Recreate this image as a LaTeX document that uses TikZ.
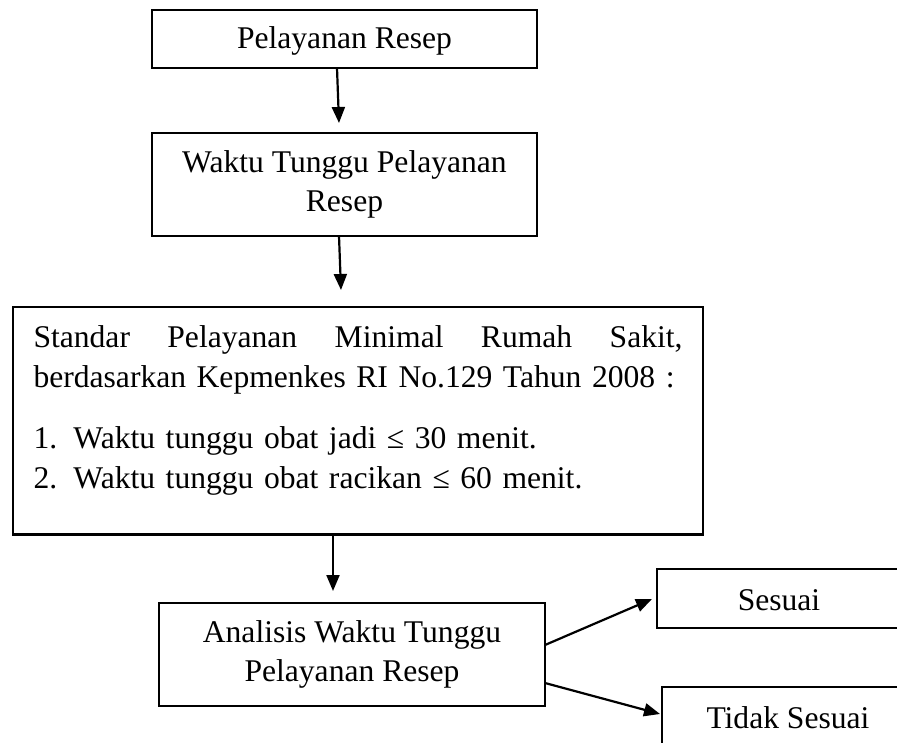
\documentclass[tikz,border=0pt]{standalone}
\usepackage{fontspec}
\setmainfont{Liberation Serif}
\usetikzlibrary{arrows.meta,calc}
\setlength{\parindent}{0pt}
\begin{document}
\begin{tikzpicture}[x=1pt,y=-1pt,
  box/.style={draw, line width=2.4pt, inner sep=0pt, outer sep=0pt,
    font=\fontsize{31.6pt}{39.5pt}\selectfont},
  arr/.style={line width=2.2pt, -{Triangle[length=16pt,width=13pt]}}]
\useasboundingbox (0,0) rectangle (897,743);
\clip (0,0) rectangle (897,743);
\node[box, minimum width=385pt, text height=39pt, text depth=19pt, anchor=base] (b1) at (344.5,49) {Pelayanan Resep};
\node[box, minimum width=385pt, minimum height=103pt, align=center] (b2) at (344.5,184.5) {Waktu Tunggu Pelayanan\\Resep};
\node[box, anchor=north west, text width=649pt, inner xsep=20.5pt, align=left] (b3) at (13,307)
  {\hbox to \linewidth{\rule{0pt}{41pt}Standar\hfill Pelayanan\hfill Minimal\hfill Rumah\hfill Sakit,}\par
   \mbox{berdasarkan Kepmenkes RI No.129 Tahun 2008 :}\par\vspace{22pt}%
   \makebox[40pt][l]{1.}Waktu tunggu obat jadi ≤ 30 menit.\par
   \makebox[40pt][l]{2.}Waktu tunggu obat racikan ≤ 60 menit.\rule[-46pt]{0pt}{46pt}};
\node[box, minimum width=386pt, minimum height=103pt, align=center] (b4) at (352,654.5) {Analisis Waktu Tunggu\\Pelayanan Resep};
\node[box, minimum width=244pt, text height=41pt, text depth=18pt, anchor=base] (s1) at (779,610) {Sesuai};
\node[box, minimum width=252pt, text height=41pt, text depth=18pt, anchor=base] (s2) at (788,728) {Tidak Sesuai};
\draw[arr] ($(b1.south)+(-7.5,0)$) -- ($(b2.north)+(-5.5,-10)$);
\draw[arr] ($(b2.south)+(-5.5,0)$) -- ($(b3.north)+(-17,-17)$);
\draw[arr] ($(b3.south)+(-25,0)$) -- ($(b4.north)+(-19,-12)$);
\draw[arr] ($(b4.east)+(0,-9.5)$) -- ($(s1.west)+(-5,0.5)$);
\draw[arr] ($(b4.east)+(0,28.5)$) -- ($(s2.west)+(-2,-2.5)$);
\end{tikzpicture}
\end{document}
